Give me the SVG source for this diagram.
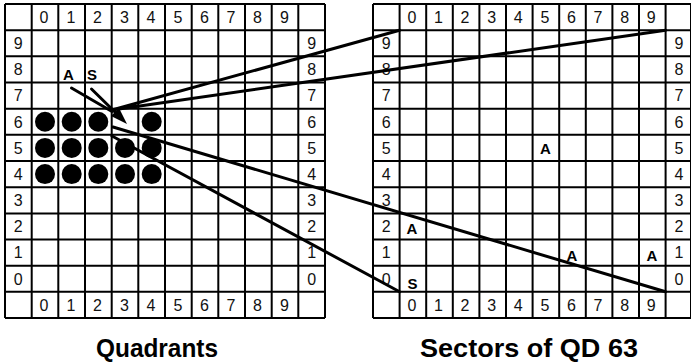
<svg xmlns="http://www.w3.org/2000/svg" width="691" height="364" viewBox="0 0 691 364">
<style>
.g{stroke:#000;stroke-width:2;fill:none}
.n{font-family:"Liberation Sans",Arial,sans-serif;font-size:16px;text-anchor:middle;fill:#111}
.b{font-family:"Liberation Sans",Arial,sans-serif;font-size:15px;font-weight:bold;text-anchor:middle;fill:#000}
.t{font-family:"Liberation Sans",Arial,sans-serif;font-size:25px;font-weight:bold;text-anchor:middle;fill:#000}
.c{stroke:#000;stroke-width:3;fill:none;stroke-linecap:round}
</style>
<rect width="691" height="364" fill="#fff"/>
<g id="quadrants-grid">
<path class="g" d="M5,4V318M31.7,4V318M58.3,4V318M85,4V318M111.7,4V318M138.3,4V318M165,4V318M191.7,4V318M218.3,4V318M245,4V318M271.7,4V318M298.3,4V318M325,4V318
M5,4H325M5,30.2H325M5,56.3H325M5,82.5H325M5,108.7H325M5,134.8H325M5,161H325M5,187.2H325M5,213.4H325M5,239.5H325M5,265.7H325M5,291.8H325M5,318H325"/>
<g class="n">
<text x="44" y="23">0</text><text x="71" y="23">1</text><text x="97.5" y="23">2</text><text x="124.5" y="23">3</text><text x="151" y="23">4</text><text x="178" y="23">5</text><text x="204.5" y="23">6</text><text x="231" y="23">7</text><text x="257.5" y="23">8</text><text x="284.5" y="23">9</text>
<text x="44" y="311">0</text><text x="71" y="311">1</text><text x="97.5" y="311">2</text><text x="124.5" y="311">3</text><text x="151" y="311">4</text><text x="178" y="311">5</text><text x="204.5" y="311">6</text><text x="231" y="311">7</text><text x="257.5" y="311">8</text><text x="284.5" y="311">9</text>
<text x="18.3" y="49">9</text><text x="18.3" y="75.2">8</text><text x="18.3" y="101.4">7</text><text x="18.3" y="127.6">6</text><text x="18.3" y="153.7">5</text><text x="18.3" y="179.9">4</text><text x="18.3" y="206.1">3</text><text x="18.3" y="232.2">2</text><text x="18.3" y="258.4">1</text><text x="18.3" y="284.6">0</text>
<text x="311.7" y="49">9</text><text x="311.7" y="75.2">8</text><text x="311.7" y="101.4">7</text><text x="311.7" y="127.6">6</text><text x="311.7" y="153.7">5</text><text x="311.7" y="179.9">4</text><text x="311.7" y="206.1">3</text><text x="311.7" y="232.2">2</text><text x="311.7" y="258.4">1</text><text x="311.7" y="284.6">0</text>
</g>
<g fill="#000">
<circle cx="45" cy="121.8" r="10"/><circle cx="71.7" cy="121.8" r="10"/><circle cx="98.3" cy="121.8" r="10"/><circle cx="151.7" cy="121.8" r="10"/>
<circle cx="45" cy="147.9" r="10"/><circle cx="71.7" cy="147.9" r="10"/><circle cx="98.3" cy="147.9" r="10"/><circle cx="125" cy="147.9" r="10"/><circle cx="151.7" cy="147.9" r="10"/>
<circle cx="45" cy="174.1" r="10"/><circle cx="71.7" cy="174.1" r="10"/><circle cx="98.3" cy="174.1" r="10"/><circle cx="125" cy="174.1" r="10"/><circle cx="151.7" cy="174.1" r="10"/>
</g>
<text class="b" x="68.5" y="79.5">A</text><text class="b" x="92" y="79.5">S</text>
</g>
<g id="sectors-grid">
<path class="g" d="M373,4V318M399.6,4V318M426.2,4V318M452.8,4V318M479.4,4V318M506,4V318M532.6,4V318M559.2,4V318M585.8,4V318M612.4,4V318M639,4V318M665.6,4V318M691,4V318
M373,4H692M373,30.2H692M373,56.3H692M373,82.5H692M373,108.7H692M373,134.8H692M373,161H692M373,187.2H692M373,213.4H692M373,239.5H692M373,265.7H692M373,291.8H692M373,318H692"/>
<g class="n">
<text x="412" y="23">0</text><text x="438.5" y="23">1</text><text x="465" y="23">2</text><text x="491.7" y="23">3</text><text x="518.3" y="23">4</text><text x="545" y="23">5</text><text x="571.5" y="23">6</text><text x="598" y="23">7</text><text x="624.7" y="23">8</text><text x="651.3" y="23">9</text>
<text x="412" y="311">0</text><text x="438.5" y="311">1</text><text x="465" y="311">2</text><text x="491.7" y="311">3</text><text x="518.3" y="311">4</text><text x="545" y="311">5</text><text x="571.5" y="311">6</text><text x="598" y="311">7</text><text x="624.7" y="311">8</text><text x="651.3" y="311">9</text>
<text x="386.3" y="49">9</text><text x="386.3" y="75.2">8</text><text x="386.3" y="101.4">7</text><text x="386.3" y="127.6">6</text><text x="386.3" y="153.7">5</text><text x="386.3" y="179.9">4</text><text x="386.3" y="206.1">3</text><text x="386.3" y="232.2">2</text><text x="386.3" y="258.4">1</text><text x="386.3" y="284.6">0</text>
<text x="678.9" y="49">9</text><text x="678.9" y="75.2">8</text><text x="678.9" y="101.4">7</text><text x="678.9" y="127.6">6</text><text x="678.9" y="153.7">5</text><text x="678.9" y="179.9">4</text><text x="678.9" y="206.1">3</text><text x="678.9" y="232.2">2</text><text x="678.9" y="258.4">1</text><text x="678.9" y="284.6">0</text>
</g>
<text class="b" x="545.5" y="153.5">A</text>
<text class="b" x="412" y="233.5">A</text>
<text class="b" x="572" y="261">A</text>
<text class="b" x="652" y="261">A</text>
<text class="b" x="412.5" y="288.5">S</text>
</g>
<g id="connectors">
<path class="c" d="M112,110L399.6,30.2M112,110L665.6,30.2M113,127L665.6,291.8M112,136L399.6,291.8"/>
<path class="c" d="M71.5,88L112,111.5M91.5,89L118,115"/>
<polygon points="127,124 111,116 119,108" fill="#000"/>
</g>
<text class="t" x="157" y="357" textLength="122" lengthAdjust="spacingAndGlyphs">Quadrants</text>
<text class="t" x="529" y="357" textLength="218" lengthAdjust="spacingAndGlyphs">Sectors of QD 63</text>
</svg>
